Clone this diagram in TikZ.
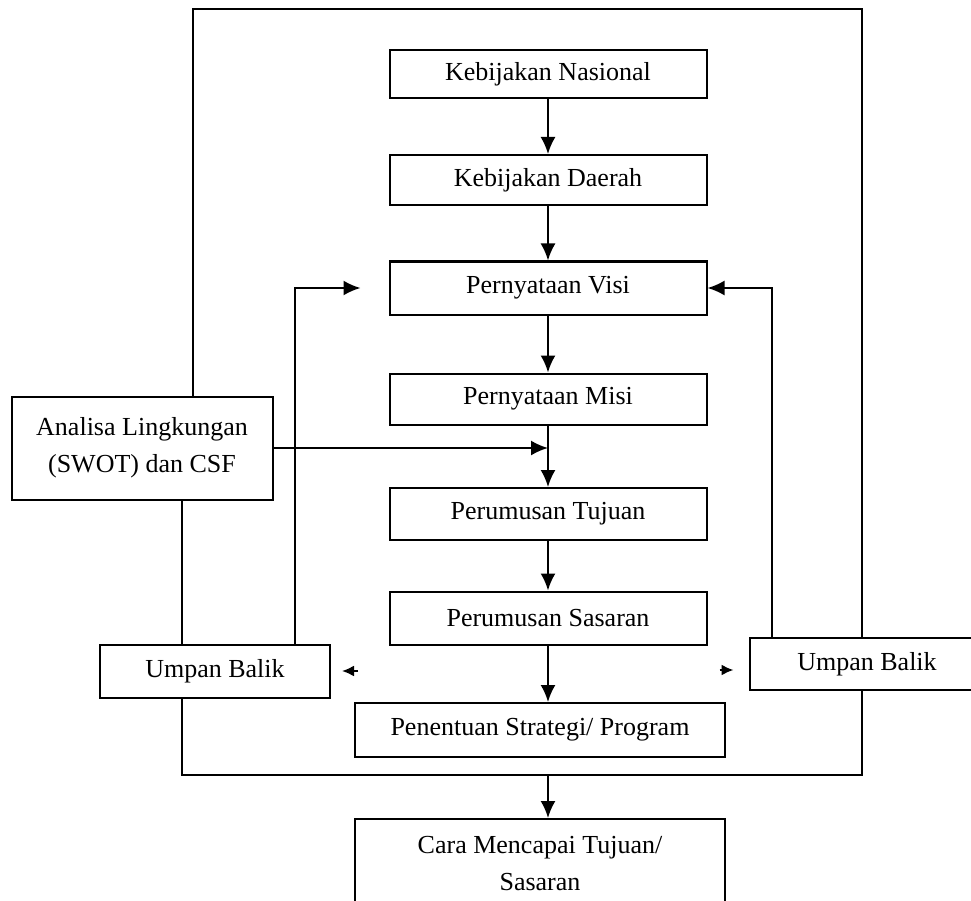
\documentclass[tikz,border=0pt]{standalone}
\usepackage{fontspec}
\setmainfont{Liberation Serif}
\usetikzlibrary{arrows.meta}
\begin{document}
\begin{tikzpicture}[x=1pt, y=-1pt, line width=2pt, font=\fontsize{26}{37}\selectfont,
  box/.style={draw, rectangle, inner sep=0pt, minimum width=317pt, minimum height=52pt},
  arr/.style={-{Latex[length=17pt,width=15pt]}},
  stub/.style={-{Latex[length=12pt,width=11pt]}}]
	\useasboundingbox (0,0) rectangle (971,901);
	\node[box, minimum height=48pt] (nas) at (548,74) {Kebijakan Nasional};
	\node[box, minimum height=50pt] (dae) at (548,180) {Kebijakan Daerah};
	\node[box, minimum height=53pt] (visi) at (548,288) {Pernyataan Visi};
	\node[box, minimum height=51pt] (misi) at (548,399) {Pernyataan Misi};
	\node[box] (tuj) at (548,514) {Perumusan Tujuan};
	\node[box, minimum height=53pt] (sas) at (548,618) {Perumusan Sasaran};
	\node[box, minimum width=370pt, minimum height=54pt] (str) at (540,730) {Penentuan Strategi/ Program};
	\node[box, minimum width=370pt, inner ysep=17pt, align=center, anchor=north] (cara) at (540,818) {Cara Mencapai Tujuan/\\Sasaran};
	\node[box, minimum width=261pt, minimum height=103pt, align=center] (ana) at (142,448) {Analisa Lingkungan\\(SWOT) dan CSF};
	\node[box, minimum width=230pt, minimum height=53pt] (ub1) at (215,671) {Umpan Balik};
	\node[box, minimum width=235pt] (ub2) at (867,664) {Umpan Balik};
	\coordinate (tl) at (193,9);
	\coordinate (tr) at (862,9);
	\coordinate (bl) at (182,775);
	\coordinate (br) at (862,775);
	\coordinate (fbl) at (295,0);
	\coordinate (fbr) at (772,0);
	\coordinate (join) at (misi.south |- ana.east);
	\coordinate (visiin) at ([xshift=-28pt]visi.west);
	\draw[arr] (nas.south) -- (dae.north);
	\draw[arr] (dae.south) -- (visi.north);
	\draw[arr] (visi.south) -- (misi.north);
	\draw[arr] (misi.south) -- (tuj.north);
	\draw[arr] (tuj.south) -- (sas.north);
	\draw[arr] (sas.south) -- (sas.south |- str.north);
	\draw[arr] (ana.east) -- (join);
	\draw (ana.north -| tl) -- (tl) -- (tr) -- (ub2.north -| tr);
	\draw (ana.south -| bl) -- (ub1.north -| bl);
	\draw (ub1.south -| bl) -- (bl) -- (br) -- (ub2.south -| br);
	\draw[arr] (bl -| sas.south) -- (cara.north -| sas.south);
	\draw[arr] (ub1.north -| fbl) |- (visiin);
	\draw[arr] (ub2.north -| fbr) |- (visi.east);
	\draw[stub] ([xshift=27pt]ub1.east) -- ([xshift=11pt]ub1.east);
	\draw[stub] ([xshift=-29pt,yshift=-6pt]ub2.west) -- ([xshift=-15pt,yshift=-6pt]ub2.west);
\end{tikzpicture}
\end{document}
